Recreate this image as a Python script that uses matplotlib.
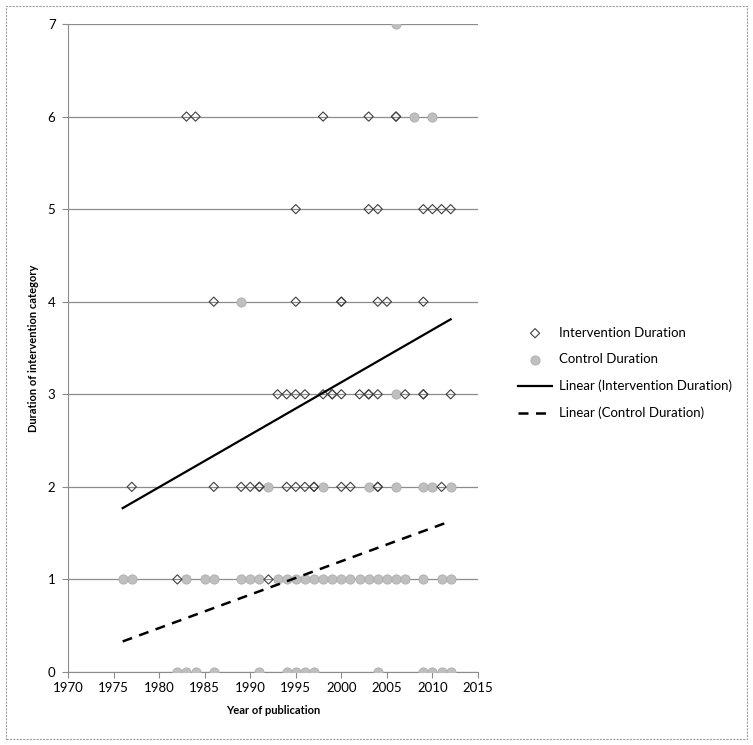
import matplotlib
matplotlib.use("Agg")
import matplotlib.pyplot as plt
from matplotlib.patches import Rectangle

plt.rcParams['font.family'] = ['Lato', 'DejaVu Sans']

# Intervention Duration points (year, category)
int_years = [1983, 1984, 1998, 2003, 2006, 2006,
             1995, 2003, 2004, 2009, 2010, 2011, 2012,
             1986, 1995, 2000, 2000, 2004, 2005, 2009,
             1993, 1994, 1995, 1996, 1998, 1999, 1999, 2000, 2002, 2003, 2003, 2004, 2007, 2009, 2009, 2012,
             1977, 1986, 1989, 1990, 1991, 1991, 1994, 1995, 1996, 1997, 1997, 2000, 2001, 2004, 2004, 2011,
             1982, 1992]
int_values = [6] * 6 + [5] * 7 + [4] * 7 + [3] * 16 + [2] * 16 + [1] * 2

# Control Duration points
ctl_years = [2006,
             2008, 2010,
             1989,
             2006,
             1992, 1998, 2003, 2006, 2009, 2010, 2012,
             1976, 1977, 1983, 1985, 1986, 1989, 1990, 1991,
             1993, 1994, 1995, 1996, 1997, 1998, 1999, 2000, 2001, 2002, 2003, 2004, 2005, 2006, 2007,
             2009, 2011, 2012,
             1982, 1983, 1984, 1986, 1991, 1994, 1995, 1996, 1997, 2004, 2009, 2010, 2011, 2012]
ctl_values = [7] + [6] * 2 + [4] + [3] + [2] * 7 + [1] * 26 + [0] * 14

# linear trend lines, read at both ends
trend_years = [1976, 2012]
int_trend = [1.77, 3.81]
ctl_trend = [0.33, 1.63]

fig = plt.figure(figsize=(7.53, 7.45), dpi=100)
ax = fig.add_axes([68 / 753, 73 / 745, 410 / 753, 648 / 745])

ax.scatter(ctl_years, ctl_values, s=44, marker='o', color='#BFBFBF',
           edgecolors='#ADADAD', linewidths=0.6, zorder=3, label='Control Duration')
ax.scatter(int_years, int_values, s=22, marker='D', facecolors='none',
           edgecolors='#404040', linewidths=0.8, zorder=4, label='Intervention Duration')
ax.plot(trend_years, int_trend, color='black', lw=1.6, zorder=5,
        label='Linear (Intervention Duration)')
ax.plot(trend_years, ctl_trend, color='black', lw=1.8, dashes=(4, 3), zorder=5,
        label='Linear (Control Duration)')

ax.set_xlim(1970, 2015)
ax.set_ylim(0, 7)
ax.set_xticks(range(1970, 2016, 5))
ax.set_yticks(range(0, 8))
ax.grid(axis='y', color='#8C8C8C', lw=0.9)
ax.set_axisbelow(True)
for s in ['top', 'right']:
    ax.spines[s].set_visible(False)
ax.spines['left'].set_color('#8C8C8C')
ax.spines['bottom'].set_color('#8C8C8C')
ax.tick_params(axis='x', direction='out', length=4, color='#8C8C8C', labelsize=9.5, pad=3)
ax.tick_params(axis='y', length=4, color='#8C8C8C', labelsize=9.5, pad=5)
ax.set_xlabel('Year of publication', fontsize=8, fontweight='bold', labelpad=8)
ax.set_ylabel('Duration of intervention category', fontsize=8, fontweight='bold', labelpad=6)

h, l = ax.get_legend_handles_labels()
order = [1, 0, 2, 3]
ax.legend([h[i] for i in order], [l[i] for i in order], loc='center left',
          bbox_to_anchor=(506 / 753, 372 / 745), bbox_transform=fig.transFigure,
          frameon=False, fontsize=9.5, handlelength=2.6, labelspacing=1.1,
          handletextpad=0.5)

fig.patches.append(Rectangle((6 / 753, 6 / 745), 741 / 753, 733 / 745, transform=fig.transFigure,
                             fill=False, edgecolor='#A0A0A0', lw=0.8, linestyle=(0, (2, 1))))

fig.savefig('out.png', dpi=100)
